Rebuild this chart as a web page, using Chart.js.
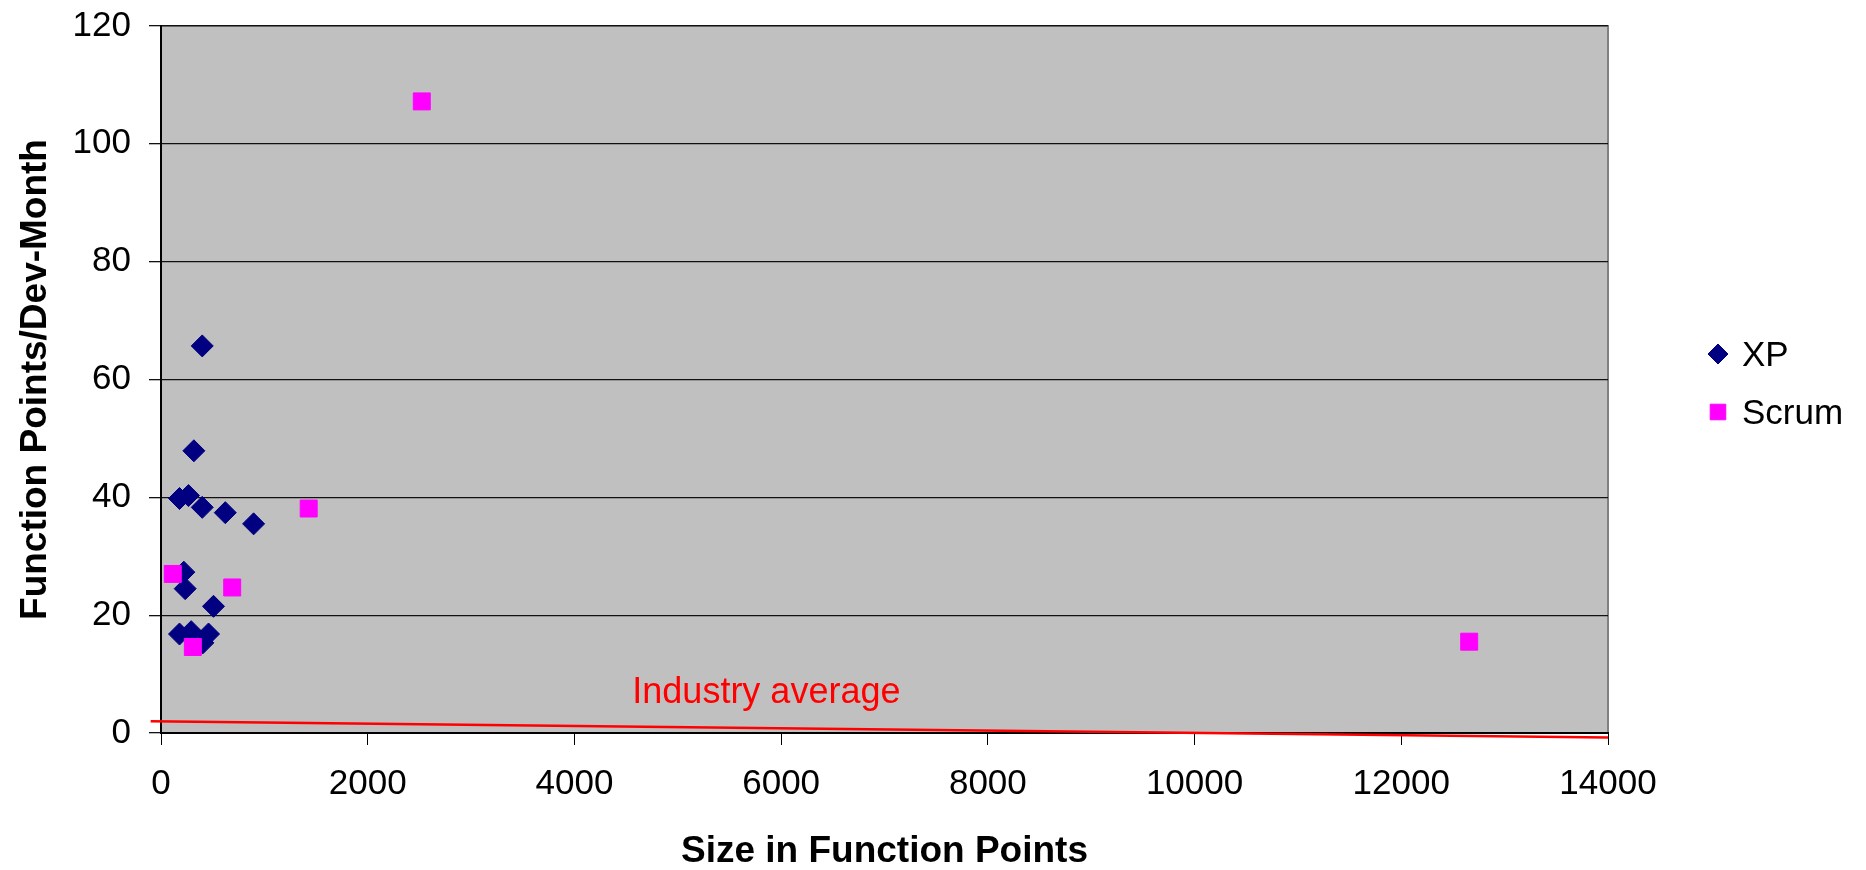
<!DOCTYPE html>
<html>
<head>
<meta charset="utf-8">
<script src="https://cdn.jsdelivr.net/npm/chart.js@4/dist/chart.umd.min.js"></script>
<style>
  html, body { margin: 0; padding: 0; background: #fff; }
  #wrap { width: 1866px; height: 870px; }
</style>
</head>
<body>
<div id="wrap"><canvas id="graph" width="1866" height="870"></canvas></div>
<script>
const FONT = '"Liberation Sans", Arial, sans-serif'

// XP projects
const xpSize = [399, 318, 179, 266, 399, 622, 896, 221, 234, 508, 179, 292, 460, 405]
const xpRate = [65.7, 47.9, 39.8, 40.3, 38.3, 37.4, 35.5, 27.3, 24.5, 21.5, 16.8, 17.2, 16.8, 15.3]

// Scrum projects
const scrumSize = [114, 689, 1429, 308, 2523, 12657]
const scrumRate = [27.0, 24.7, 38.1, 14.6, 107.2, 15.5]

// hand drawn industry average line
const industryX = [-100, 14000]
const industryY = [2.0, -0.75]

const xTicks = [0, 2000, 4000, 6000, 8000, 10000, 12000, 14000]
const yTicks = [0, 20, 40, 60, 80, 100, 120]

const toPoints = (xs, ys) => xs.map((x, i) => ({ x, y: ys[i] }))

const plotBackground = {
  id: 'plotBackground',
  beforeDraw(chart) {
    const { ctx, chartArea: { left, top, right, bottom } } = chart
    ctx.save()
    ctx.fillStyle = '#C0C0C0'
    ctx.fillRect(left, top, right - left, bottom - top)
    ctx.strokeStyle = '#808080'
    ctx.lineWidth = 2
    ctx.beginPath()
    ctx.moveTo(left, top)
    ctx.lineTo(right, top)
    ctx.lineTo(right, bottom)
    ctx.stroke()
    ctx.restore()
  }
}

const extras = {
  id: 'extras',
  afterDraw(chart) {
    const { ctx, scales: { x, y } } = chart
    ctx.save()
    // industry average label
    ctx.font = '36px ' + FONT
    ctx.fillStyle = '#FF0000'
    ctx.textAlign = 'left'
    ctx.textBaseline = 'alphabetic'
    ctx.fillText('Industry average', x.getPixelForValue(4560), y.getPixelForValue(5.1))

    // legend
    const items = [
      { text: 'XP', style: 'rectRot', radius: 10, color: '#000080' },
      { text: 'Scrum', style: 'rect', radius: 11, color: '#FF00FF' }
    ]
    ctx.font = '35px ' + FONT
    ctx.textBaseline = 'middle'
    items.forEach((it, i) => {
      const cy = 354 + i * 58
      ctx.fillStyle = it.color
      ctx.strokeStyle = it.color
      ctx.lineWidth = 1
      Chart.helpers.drawPoint(ctx, { pointStyle: it.style, radius: it.radius, rotation: 0, borderWidth: 1 }, 1718, cy)
      ctx.fillStyle = '#000'
      ctx.fillText(it.text, 1742, cy + 2)
    })
    ctx.restore()
  }
}

new Chart(document.getElementById('graph'), {
  type: 'scatter',
  plugins: [plotBackground, extras],
  data: {
    datasets: [
      {
        label: 'XP',
        data: toPoints(xpSize, xpRate),
        pointStyle: 'rectRot',
        pointRadius: 11,
        backgroundColor: '#000080',
        borderColor: '#000080',
        borderWidth: 1,
        order: 1
      },
      {
        label: 'Scrum',
        data: toPoints(scrumSize, scrumRate),
        pointStyle: 'rect',
        pointRadius: 12,
        backgroundColor: '#FF00FF',
        borderColor: '#FF00FF',
        borderWidth: 1,
        order: 0
      },
      {
        label: 'Industry average',
        type: 'line',
        data: toPoints(industryX, industryY),
        borderColor: '#FF0000',
        borderWidth: 2.5,
        pointRadius: 0,
        fill: false,
        clip: false,
        order: 2
      }
    ]
  },
  options: {
    responsive: false,
    animation: false,
    layout: { padding: { left: 0, right: 258, top: 26, bottom: 0 } },
    plugins: {
      legend: { display: false },
      tooltip: { enabled: false }
    },
    scales: {
      x: {
        type: 'linear',
        min: 0,
        max: 14000,
        afterBuildTicks: s => { s.ticks = xTicks.map(v => ({ value: v })) },
        afterFit: s => { s.height = 137 },
        grid: { drawOnChartArea: false, color: '#000', tickLength: 12, lineWidth: 1 },
        border: { color: '#000', width: 2 },
        ticks: {
          color: '#000',
          padding: 18,
          maxRotation: 0,
          font: { size: 35, family: FONT },
          callback: v => String(v)
        },
        title: {
          display: true,
          text: 'Size in Function Points',
          color: '#000',
          padding: { top: 0, bottom: 0 },
          font: { size: 37, weight: 'bold', family: FONT, lineHeight: 1.0 }
        }
      },
      y: {
        type: 'linear',
        min: 0,
        max: 120,
        afterBuildTicks: s => { s.ticks = yTicks.map(v => ({ value: v })) },
        afterFit: s => {
          s.width = 161
          s.paddingTop = 0
          s.paddingBottom = 0
        },
        grid: { color: '#111', tickLength: 12, lineWidth: 1.3 },
        border: { color: '#000', width: 2 },
        ticks: { color: '#000', padding: 18, font: { size: 35, family: FONT }, callback: v => String(v) },
        title: {
          display: true,
          text: 'Function Points/Dev-Month',
          color: '#000',
          padding: { top: 14, bottom: 0 },
          font: { size: 37, weight: 'bold', family: FONT }
        }
      }
    }
  }
})
</script>
</body>
</html>
